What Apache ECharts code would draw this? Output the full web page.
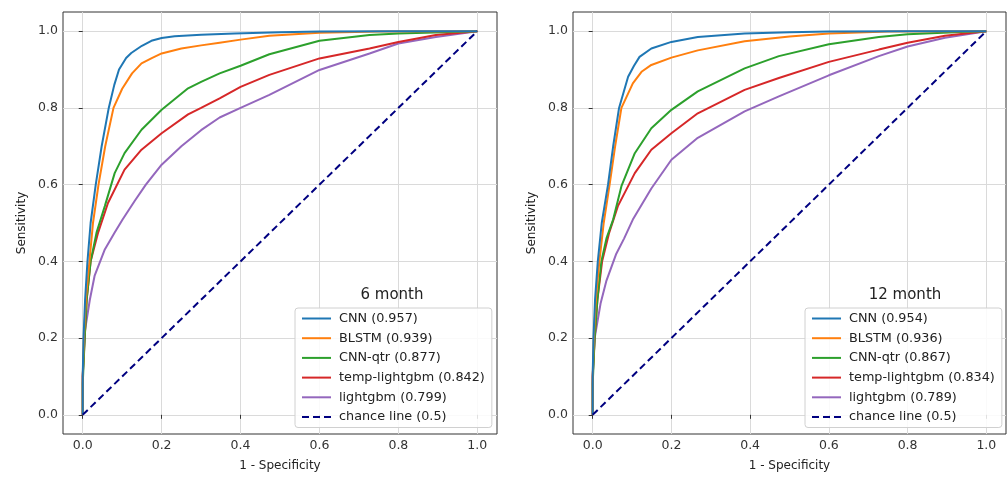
<!DOCTYPE html>
<html>
<head>
<meta charset="utf-8">
<script src="https://cdn.jsdelivr.net/npm/echarts@6/dist/echarts.min.js"></script>
<style>
html,body{margin:0;padding:0;background:#fff;}
#c{width:1007px;height:477px;}
</style>
</head>
<body>
<div id="c"></div>
<script>
// ---- tick labels ----
const tickValues = [0, 0.2, 0.4, 0.6, 0.8, 1.0];

// ---- panel titles ----
const panelTitles = ['6 month', '12 month'];

// ---- series names ----
const names6 = ['CNN (0.957)', 'BLSTM (0.939)', 'CNN-qtr (0.877)', 'temp-lightgbm (0.842)', 'lightgbm (0.799)', 'chance line (0.5)'];
const names12 = ['CNN (0.954)', 'BLSTM (0.936)', 'CNN-qtr (0.867)', 'temp-lightgbm (0.834)', 'lightgbm (0.789)', 'chance line (0.5)'];

// ---- 6 month ROC curves: [1 - specificity, sensitivity] ----
const cnn6 = [[0,0],[0,0.1],[0.002,0.2],[0.006,0.3],[0.012,0.4],[0.02,0.5],[0.033,0.6],[0.048,0.7],[0.066,0.8],[0.08,0.86],[0.092,0.9],[0.11,0.93],[0.123,0.943],[0.15,0.962],[0.174,0.975],[0.2,0.982],[0.233,0.987],[0.3,0.991],[0.385,0.994],[0.5,0.997],[0.6,0.999],[0.8,1],[1,1]];
const blstm6 = [[0,0],[0,0.1],[0.003,0.2],[0.008,0.3],[0.017,0.4],[0.026,0.5],[0.04,0.6],[0.057,0.7],[0.078,0.8],[0.1,0.85],[0.125,0.89],[0.149,0.916],[0.175,0.93],[0.2,0.942],[0.25,0.955],[0.3,0.963],[0.347,0.97],[0.4,0.978],[0.473,0.988],[0.6,0.996],[0.75,0.999],[1,1]];
const cnnqtr6 = [[0,0],[0,0.08],[0.005,0.2],[0.01,0.3],[0.02,0.4],[0.035,0.475],[0.056,0.544],[0.081,0.63],[0.106,0.682],[0.149,0.743],[0.2,0.795],[0.267,0.851],[0.3,0.868],[0.347,0.89],[0.4,0.91],[0.473,0.94],[0.6,0.975],[0.727,0.99],[0.8,0.994],[0.935,0.998],[1,1]];
const templgb6 = [[0,0],[0,0.1],[0.005,0.2],[0.01,0.3],[0.02,0.4],[0.039,0.475],[0.064,0.552],[0.106,0.639],[0.149,0.691],[0.2,0.734],[0.267,0.783],[0.3,0.8],[0.347,0.825],[0.4,0.855],[0.473,0.886],[0.6,0.929],[0.727,0.955],[0.8,0.972],[0.895,0.99],[1,1]];
const lgb6 = [[0,0],[0,0.1],[0.005,0.215],[0.018,0.3],[0.03,0.362],[0.056,0.431],[0.081,0.475],[0.101,0.509],[0.132,0.558],[0.16,0.6],[0.2,0.652],[0.25,0.7],[0.3,0.742],[0.347,0.775],[0.4,0.8],[0.473,0.834],[0.6,0.899],[0.727,0.942],[0.8,0.968],[0.895,0.985],[1,1]];

// ---- 12 month ROC curves ----
const cnn12 = [[0,0],[0,0.1],[0.002,0.2],[0.006,0.3],[0.013,0.4],[0.023,0.5],[0.039,0.6],[0.052,0.7],[0.067,0.8],[0.09,0.881],[0.105,0.91],[0.119,0.933],[0.149,0.955],[0.2,0.972],[0.267,0.985],[0.386,0.994],[0.5,0.997],[0.6,0.999],[0.8,1],[1,1]];
const blstm12 = [[0,0],[0,0.1],[0.003,0.2],[0.008,0.3],[0.017,0.4],[0.028,0.5],[0.043,0.6],[0.057,0.7],[0.073,0.8],[0.102,0.864],[0.125,0.895],[0.149,0.912],[0.2,0.931],[0.267,0.95],[0.386,0.974],[0.5,0.986],[0.6,0.994],[0.75,0.999],[1,1]];
const cnnqtr12 = [[0,0],[0,0.08],[0.005,0.2],[0.012,0.3],[0.022,0.4],[0.035,0.46],[0.052,0.509],[0.073,0.596],[0.107,0.682],[0.149,0.747],[0.2,0.795],[0.267,0.843],[0.386,0.903],[0.473,0.935],[0.6,0.966],[0.727,0.985],[0.8,0.992],[0.935,0.998],[1,1]];
const templgb12 = [[0,0],[0,0.1],[0.005,0.2],[0.012,0.3],[0.024,0.4],[0.042,0.475],[0.064,0.544],[0.107,0.63],[0.149,0.691],[0.2,0.734],[0.267,0.786],[0.386,0.847],[0.473,0.878],[0.6,0.92],[0.727,0.952],[0.8,0.97],[0.895,0.988],[1,1]];
const lgb12 = [[0,0],[0,0.1],[0.005,0.2],[0.02,0.29],[0.035,0.35],[0.06,0.42],[0.08,0.46],[0.102,0.509],[0.149,0.59],[0.2,0.665],[0.267,0.722],[0.386,0.791],[0.473,0.83],[0.6,0.885],[0.727,0.935],[0.8,0.96],[0.895,0.983],[1,1]];

// ---- chance line ----
const chance = [[0,0],[1,1]];

const colors = ['#1f77b4', '#ff7f0e', '#2ca02c', '#d62728', '#9467bd', '#000080'];
const FONT = 'DejaVu Sans';

const panels = [
  {names: names6, data: [cnn6, blstm6, cnnqtr6, templgb6, lgb6, chance]},
  {names: names12, data: [cnn12, blstm12, cnnqtr12, templgb12, lgb12, chance]}
];

const gridPos = [
  {left: 63, top: 12, width: 434, height: 423},
  {left: 573, top: 12, width: 433, height: 423}
];

function axisCommon() {
  return {
    type: 'value', min: -0.05, max: 1.05,
    axisLine: {show: false},
    axisTick: {show: true, customValues: tickValues, length: 4, lineStyle: {color: '#333', width: 1}},
    axisLabel: {customValues: tickValues, color: '#333', fontSize: 12.5, fontFamily: FONT, margin: 5,
      formatter: v => v.toFixed(1)},
    splitLine: {show: true, lineStyle: {color: '#dadada', width: 1}},
    nameTextStyle: {color: '#222', fontSize: 12, fontFamily: FONT}
  };
}

const grids = gridPos.map(g => Object.assign({show: true, borderColor: '#333', borderWidth: 1, backgroundColor: 'transparent'}, g));
const xAxes = gridPos.map((g, i) => Object.assign(axisCommon(), {gridIndex: i, name: '1 - Specificity', nameLocation: 'middle', nameGap: 26}));
const yAxes = gridPos.map((g, i) => Object.assign(axisCommon(), {gridIndex: i, name: 'Sensitivity', nameLocation: 'middle', nameGap: 35}));

const series = [];
panels.forEach((p, pi) => {
  p.data.forEach((d, si) => {
    const isChance = si === 5;
    series.push({
      type: 'line', name: p.names[si], data: d,
      xAxisIndex: pi, yAxisIndex: pi,
      symbol: 'none', showSymbol: false, smooth: false,
      z: isChance ? 3 : 2 + (5 - si) * 0.01,
      lineStyle: {color: colors[si], width: 2, type: isChance ? [7, 4] : 'solid'},
      itemStyle: {color: colors[si]},
      emphasis: {disabled: true}
    });
  });
});

const legendLeft = [295, 805];
const legends = panels.map((p, i) => ({
  data: p.names,
  orient: 'vertical',
  left: legendLeft[i], top: 308,
  itemWidth: 29, itemHeight: 15, itemGap: 4.7,
  padding: [3, 7, 3, 6],
  backgroundColor: 'rgba(255,255,255,0.85)',
  borderColor: '#d0d0d0', borderWidth: 1, borderRadius: 3,
  selectedMode: false,
  itemStyle: {opacity: 0, borderWidth: 0},
  textStyle: {color: '#222', fontSize: 12.8, lineHeight: 15, fontFamily: FONT, padding: [0, 0, 0, 3]}
}));

const titleX = [392, 905];
const graphics = panelTitles.map((t, i) => ({
  type: 'text', x: titleX[i], y: 295, z: 100,
  style: {text: t, fill: '#222', fontSize: 15, fontFamily: FONT, textAlign: 'center', textVerticalAlign: 'middle'}
}));

const chart = echarts.init(document.getElementById('c'), null, {renderer: 'canvas'});
chart.setOption({
  animation: false,
  backgroundColor: '#fff',
  grid: grids,
  xAxis: xAxes,
  yAxis: yAxes,
  legend: legends,
  graphic: graphics,
  series: series
});
</script>
</body>
</html>
